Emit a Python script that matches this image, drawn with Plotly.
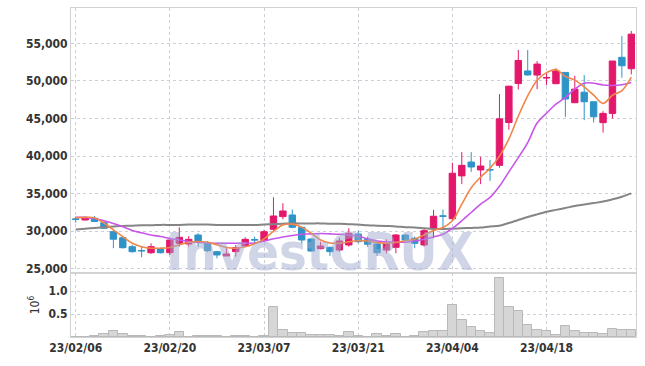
import plotly.graph_objects as go

dates = ["23/02/06","23/02/07","23/02/08","23/02/09","23/02/10","23/02/13","23/02/14","23/02/15","23/02/16","23/02/17",
         "23/02/20","23/02/21","23/02/22","23/02/23","23/02/24","23/02/27","23/02/28","23/03/02","23/03/03","23/03/06",
         "23/03/07","23/03/08","23/03/09","23/03/10","23/03/13","23/03/14","23/03/15","23/03/16","23/03/17","23/03/20",
         "23/03/21","23/03/22","23/03/23","23/03/24","23/03/27","23/03/28","23/03/29","23/03/30","23/03/31","23/04/03",
         "23/04/04","23/04/05","23/04/06","23/04/07","23/04/10","23/04/11","23/04/12","23/04/13","23/04/14","23/04/17",
         "23/04/18","23/04/19","23/04/20","23/04/21","23/04/24","23/04/25","23/04/26","23/04/27","23/04/28","23/05/02"]

open_ = [31650,31500,31730,31140,29950,29150,27950,27450,27150,27650,
         27150,28400,28310,29510,28400,27290,26720,27290,28040,28900,
         28840,30270,31950,32170,30530,28970,27690,27870,27510,28180,
         29640,28930,28310,27510,27870,29510,29070,28180,30450,32050,
         31670,37370,39210,38160,38200,38770,44470,49650,51330,50780,
         50380,49630,51130,47100,48500,47230,44450,45680,53140,51620]
high = [31950,31950,32030,31300,30100,29350,28200,27950,28400,27800,
        28900,30530,29350,29750,28700,27400,27740,28180,29200,29300,
        30200,34520,33720,32900,30600,29050,28620,27950,29150,30400,
        30080,29300,28400,28930,29640,29640,29300,30400,32850,32890,
        39120,40530,40530,39910,39470,48250,49350,54120,54110,52640,
        51000,51670,51130,50690,50780,47230,45980,52650,55980,56640]
low = [31150,31450,31250,30300,27750,27700,27150,26550,26980,27050,
       26850,27950,27950,27950,27250,26400,26700,26620,27950,28400,
       28600,30100,31600,30400,28400,27300,27600,26720,27300,27950,
       28400,27950,26720,27070,27070,28540,27750,27950,29070,30570,
       31450,36270,37900,36270,36710,38460,43510,48860,50700,48910,
       49440,49580,45220,47050,44780,44470,43130,45000,50420,50870]
close = [31600,31800,31300,30400,28950,27820,27290,27400,27950,27150,
         28840,29200,28930,28500,27420,26850,26980,27820,28930,28840,
         29950,32030,32700,30530,28840,27370,28040,27290,28710,29730,
         28620,28270,27150,28400,29510,28840,28400,30080,32000,32000,
         37720,38770,38550,38680,38160,44960,49300,52720,50800,52240,
         50450,51330,47590,48910,47230,45230,45680,52650,52020,56220]

ma_short = [31800,31850,31800,31100,30200,29300,28400,27950,27750,27750,
            27850,28200,28550,28650,28550,28200,27850,27750,27950,28350,
            29000,30000,30850,30950,30550,29750,28850,28450,28400,28600,
            28750,28700,28500,28400,28500,28750,28950,29500,30100,30500,
            31400,33600,35800,37200,38400,40000,42300,45300,48000,50100,
            51100,51500,50600,50100,49200,48100,47000,48100,48700,50500]
ma_mid = [31850,31850,31700,31400,31050,30600,30100,29800,29500,29300,
          29050,28850,28650,28550,28450,28400,28400,28400,28400,28450,
          28700,29000,29250,29450,29600,29650,29700,29650,29600,29500,
          29350,29000,28700,28600,28550,28550,28700,28950,29250,29600,
          30400,31400,32500,33600,34500,36000,37900,39800,41800,44400,
          45700,46900,47800,48900,49700,49700,49450,49400,49500,49800]
ma_long = [30250,30350,30450,30550,30650,30700,30750,30800,30800,30850,
           30850,30850,30900,30900,30900,30850,30850,30850,30850,30850,
           30900,30950,31000,31050,31050,31050,31050,31000,31000,30950,
           30900,30800,30750,30700,30650,30550,30500,30400,30300,30300,
           30350,30400,30450,30500,30650,30750,31100,31500,31900,32250,
           32600,32850,33100,33350,33550,33750,33950,34250,34600,35050]

vol_millions = [0.01,0.005,0.02,0.06,0.14,0.06,0.03,0.03,0.01,0.03,
                0.05,0.10,0.01,0.03,0.02,0.03,0.01,0.03,0.03,0.01,
                0.03,0.65,0.16,0.08,0.08,0.04,0.05,0.05,0.02,0.12,
                0.03,0.01,0.06,0.03,0.07,0.01,0.03,0.10,0.13,0.13,
                0.70,0.38,0.21,0.14,0.08,1.29,0.65,0.56,0.26,0.16,
                0.14,0.05,0.23,0.13,0.08,0.08,0.06,0.18,0.15,0.16]

tick_idx = [0, 10, 20, 30, 40, 50]
tick_vals = [dates[i] for i in tick_idx]

UP = "#e3186b"
DOWN = "#2e94c8"
GRID = "#ccced9"
AXLINE = "#d2d2d2"
TXT = "#333333"
FONT = "DejaVu Sans Condensed, Liberation Sans Narrow, sans-serif"

fig = go.Figure()
fig.add_trace(go.Candlestick(
    x=dates, open=open_, high=high, low=low, close=close,
    increasing=dict(line=dict(color=UP, width=1), fillcolor=UP),
    decreasing=dict(line=dict(color=DOWN, width=1), fillcolor=DOWN),
    whiskerwidth=0, showlegend=False, xaxis="x", yaxis="y"))
fig.add_trace(go.Scatter(x=dates, y=ma_long, mode="lines", line=dict(color="#858585", width=2, shape="spline"),
                         showlegend=False, xaxis="x", yaxis="y"))
fig.add_trace(go.Scatter(x=dates, y=ma_mid, mode="lines", line=dict(color="#c856ea", width=1.6, shape="spline"),
                         showlegend=False, xaxis="x", yaxis="y"))
fig.add_trace(go.Scatter(x=dates, y=ma_short, mode="lines", line=dict(color="#f0864a", width=1.6, shape="spline"),
                         showlegend=False, xaxis="x", yaxis="y"))
fig.add_trace(go.Bar(x=dates, y=vol_millions, marker=dict(color="#d6d6d6", line=dict(color="#b9b9b9", width=1)),
                     showlegend=False, xaxis="x2", yaxis="y2"))

axis_common = dict(showgrid=True, gridcolor=GRID, griddash="dot", gridwidth=1,
                   showline=True, linecolor=AXLINE, linewidth=1, mirror=True, zeroline=False)
tfont = dict(size=12, color=TXT, family=FONT, weight="bold")

fig.update_layout(
    width=645, height=366,
    margin=dict(l=71, r=9, t=8, b=29),
    paper_bgcolor="white", plot_bgcolor="white",
    font=dict(family=FONT, size=12, color=TXT),
    bargap=0, boxgap=0.2, boxgroupgap=0.15,
    hovermode=False,
    xaxis=dict(type="category", domain=[0, 1], anchor="y", rangeslider=dict(visible=False),
               tickmode="array", tickvals=tick_vals, showticklabels=False,
               range=[-0.5, len(dates) - 0.5], **axis_common),
    xaxis2=dict(type="category", domain=[0, 1], anchor="y2", matches="x",
                tickmode="array", tickvals=tick_vals, ticktext=tick_vals, tickfont=tfont,
                range=[-0.5, len(dates) - 0.5], **axis_common),
    yaxis=dict(domain=[0.1945, 1], anchor="x", range=[24450, 59700], tickmode="array",
               tickvals=[25000, 30000, 35000, 40000, 45000, 50000, 55000],
               tickformat=",d", tickfont=tfont, **axis_common),
    yaxis2=dict(domain=[0, 0.1945], anchor="x2", range=[0, 1.4], tickmode="array",
                tickvals=[0.5, 1.0], ticktext=["0.5", "1.0"], tickfont=tfont,
                title=dict(text="10<sup>6</sup>", font=dict(size=12, color=TXT, family=FONT), standoff=6),
                **axis_common),
    annotations=[dict(text="<b>InvestCRUX</b>", xref="paper", yref="paper", x=0.4407, y=0.258,
                      xanchor="center", yanchor="middle", showarrow=False,
                      font=dict(size=52, color="rgba(160,170,205,0.5)",
                                family="DejaVu Sans Condensed, sans-serif"))],
)

fig.write_html("out.html")
